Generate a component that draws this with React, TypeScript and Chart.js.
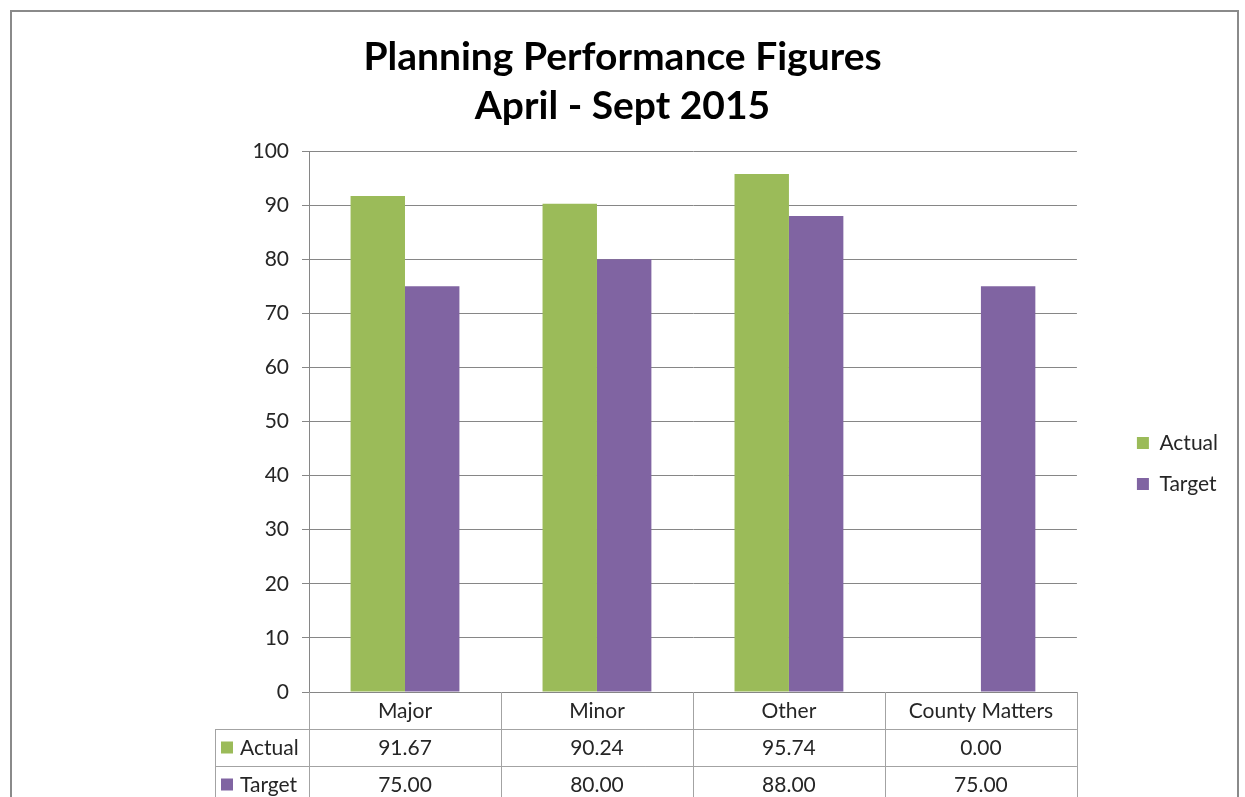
import React, { useEffect, useRef } from 'react';
import { Chart, registerables } from 'chart.js';

Chart.register(...registerables);

const titleLines = ['Planning Performance Figures', 'April - Sept 2015'];
const categories = ['Major', 'Minor', 'Other', 'County Matters'];
const actualValues = [91.67, 90.24, 95.74, 0.0];
const targetValues = [75.0, 80.0, 88.0, 75.0];
const seriesNames = ['Actual', 'Target'];
const seriesColors = ['#9BBB59', '#8064A2'];
const yMin = 0;
const yMax = 100;
const yStep = 10;

const FONT = 'Lato, "Open Sans", sans-serif';
const TEXT = '#262626';
const GRID = '#868686';
const TABLE_LINE = '#a3a3a3';
const FS = 21;

const framePlugin = {
  id: 'frame',
  beforeDraw(chart: any) {
    const { ctx, width, height } = chart;
    ctx.save();
    ctx.fillStyle = '#ffffff';
    ctx.fillRect(0, 0, width, height);
    ctx.strokeStyle = '#8a8a8a';
    ctx.lineWidth = 2;
    ctx.strokeRect(11, 11, 1227, height + 40);
    ctx.restore();
  },
};

const tablePlugin = {
  id: 'dataTable',
  afterDraw(chart: any) {
    const { ctx, chartArea } = chart;
    const xScale = chart.scales.x;
    const left = chartArea.left;
    const right = chartArea.right;
    const top = chartArea.bottom;
    const rowH = 37;
    const n = categories.length;
    const catW = (right - left) / n;
    const labelLeft = left - 94;
    const px = (v: number) => Math.round(v) + 0.5;

    ctx.save();
    ctx.strokeStyle = TABLE_LINE;
    ctx.lineWidth = 1;
    ctx.beginPath();
    for (let r = 1; r <= 3; r++) {
      const y = px(top + r * rowH);
      ctx.moveTo(labelLeft, y);
      ctx.lineTo(right, y);
    }
    for (let i = 0; i <= n; i++) {
      const x = px(left + i * catW);
      ctx.moveTo(x, top);
      ctx.lineTo(x, top + 3 * rowH + 10);
    }
    ctx.moveTo(px(labelLeft), top + rowH);
    ctx.lineTo(px(labelLeft), top + 3 * rowH + 10);
    ctx.stroke();

    ctx.fillStyle = TEXT;
    ctx.font = `${FS}px ${FONT}`;
    ctx.textAlign = 'center';
    ctx.textBaseline = 'middle';
    categories.forEach((c, i) => {
      const cx = xScale.getPixelForValue(i);
      ctx.fillText(c, cx, top + rowH / 2 + 1);
      ctx.fillText(actualValues[i].toFixed(2), cx, top + rowH * 1.5 + 1);
      ctx.fillText(targetValues[i].toFixed(2), cx, top + rowH * 2.5 + 1);
    });

    [actualValues, targetValues].forEach((_, s) => {
      const cy = top + rowH * (1.5 + s);
      ctx.fillStyle = seriesColors[s];
      ctx.fillRect(labelLeft + 6, cy - 6, 12, 12);
      ctx.fillStyle = TEXT;
      ctx.textAlign = 'left';
      ctx.fillText(seriesNames[s], labelLeft + 25, cy + 1);
    });
    ctx.restore();
  },
};

export default function App() {
  const canvasRef = useRef<HTMLCanvasElement | null>(null);

  useEffect(() => {
    document.body.style.margin = '0';
    const canvas = canvasRef.current;
    if (!canvas) return;
    const chart = new Chart(canvas, {
      type: 'bar',
      data: {
        labels: categories,
        datasets: [
          {
            label: seriesNames[0],
            data: actualValues,
            backgroundColor: seriesColors[0],
            borderWidth: 0,
          },
          {
            label: seriesNames[1],
            data: targetValues,
            backgroundColor: seriesColors[1],
            borderWidth: 0,
          },
        ],
      },
      options: {
        responsive: false,
        animation: false,
        devicePixelRatio: 1,
        categoryPercentage: 0.567,
        barPercentage: 1,
        layout: { padding: 0 },
        plugins: {
          title: {
            display: true,
            text: titleLines,
            color: '#000000',
            font: { family: FONT, size: 39, weight: 'bold', lineHeight: 49 / 39 },
            padding: { top: 33, bottom: 20 },
          },
          legend: {
            display: true,
            position: 'right',
            align: 'center',
            fullSize: false,
            title: { display: true, text: '', padding: { top: 30, bottom: 30 }, font: { size: 20, lineHeight: 1.2 } },
            labels: {
              boxWidth: 12,
              boxHeight: 12,
              padding: 20,
              color: TEXT,
              font: { family: FONT, size: FS },
            },
          },
          tooltip: { enabled: false },
        },
        scales: {
          x: {
            display: true,
            grid: { display: false },
            ticks: { display: false },
            border: { display: true, color: GRID, width: 1 },
            afterFit: (s: any) => {
              s.height = 105;
            },
          },
          y: {
            min: yMin,
            max: yMax,
            ticks: {
              stepSize: yStep,
              color: TEXT,
              font: { family: FONT, size: FS },
              padding: 13,
            },
            grid: { color: GRID, tickLength: 7, lineWidth: 1 },
            border: { display: true, color: GRID, width: 1 },
            afterFit: (s: any) => {
              s.width = 309;
            },
          },
          yR: {
            type: 'linear',
            position: 'right',
            display: true,
            weight: 0,
            grid: { display: false },
            ticks: { display: false },
            border: { display: false },
            afterFit: (s: any) => {
              s.width = 40;
            },
          },
          yOuter: {
            type: 'linear',
            position: 'right',
            display: true,
            weight: 3000,
            grid: { display: false },
            ticks: { display: false },
            border: { display: false },
            afterFit: (s: any) => {
              s.width = 17;
            },
          },
        },
      },
      plugins: [framePlugin, tablePlugin],
    } as any);
    return () => chart.destroy();
  }, []);

  return (
    <div style={{ width: 1245, height: 797, overflow: 'hidden' }}>
      <canvas ref={canvasRef} width={1245} height={797} style={{ display: 'block' }} />
    </div>
  );
}
